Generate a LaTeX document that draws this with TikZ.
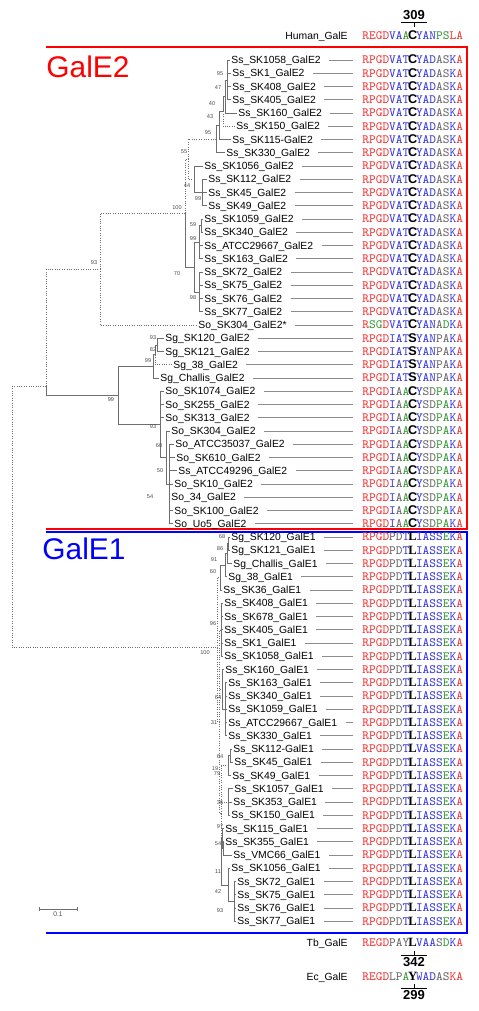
\documentclass[tikz,border=0pt]{standalone}
\usepackage{fontspec}
\usepackage{xcolor}
\newfontfamily\lsans{Liberation Sans}
\newfontfamily\lserif{Liberation Serif}
\definecolor{aared}{HTML}{EE3A3A}
\definecolor{aablue}{HTML}{3A3AE0}
\definecolor{aagreen}{HTML}{3A9A3A}
\definecolor{aagray}{HTML}{6A6A6A}
\definecolor{branch}{HTML}{6E6E6E}
\newcommand{\rd}[1]{\textcolor{aared}{#1}}
\newcommand{\bl}[1]{\textcolor{aablue}{#1}}
\newcommand{\gn}[1]{\textcolor{aagreen}{#1}}
\newcommand{\gy}[1]{\textcolor{aagray}{#1}}
\newcommand{\kc}[1]{\makebox[0.525em]{\lsans\bfseries #1}}
\newcommand{\kl}[1]{\makebox[0.525em]{\lserif\bfseries #1}}
% residue strings
\newcommand{\seqSs}{\rd{RPGD}\bl{VAT}\kc{C}\bl{YAD}\gy{AS}\bl{K}\rd{A}}
\newcommand{\seqSx}{\rd{R}\gn{SG}\rd{D}\bl{VAT}\kc{C}\bl{YAN}\gy{A}\gn{D}\bl{K}\rd{A}}
\newcommand{\seqSg}{\rd{RPGD}\bl{IAT}\kc{S}\bl{YAN}\gy{PA}\bl{K}\rd{A}}
\newcommand{\seqSo}{\rd{RPGD}\bl{I}\gy{A}\gn{A}\kc{C}\bl{Y}\gy{SD}\gn{PA}\bl{K}\rd{A}}
\newcommand{\seqEa}{\rd{RPGD}\gy{PD}\bl{T}\kl{L}\bl{IASS}\gn{E}\bl{K}\rd{A}}
\newcommand{\seqEb}{\rd{RPGD}\gy{PD}\bl{T}\kl{L}\bl{VASS}\gn{E}\bl{K}\rd{A}}
\newcommand{\seqHs}{\rd{REGD}\bl{VA}\gn{A}\kc{C}\bl{YAN}\gn{PS}\rd{LA}}
\newcommand{\seqTb}{\rd{REGD}\gy{PAY}\kl{L}\bl{VAA}\gy{S}\gn{D}\bl{K}\rd{A}}
\newcommand{\seqEc}{\rd{REGD}\gy{LP}\gn{A}\kl{Y}\bl{WAD}\gy{AS}\rd{KA}}

\begin{document}
\begin{tikzpicture}[x=0.02cm, y=-0.02cm]
  \tikzstyle{leaf}=[anchor=west, inner sep=0.6pt, font=\lsans\fontsize{5.9}{6}\selectfont, text height=4.5pt, text depth=0.3pt]
  \tikzstyle{seq}=[anchor=west, inner sep=0pt, font=\ttfamily\fontsize{7.2}{7.2}\selectfont, text height=4.6pt, text depth=0.2pt]
  \tikzstyle{br}=[draw=branch, line width=0.35pt]
  \tikzstyle{brd}=[br, densely dotted]
  \tikzstyle{guide}=[draw=black!45, line width=0.35pt, shorten <=4pt, shorten >=5pt]
  \tikzstyle{bs}=[inner sep=0pt, font=\lsans\fontsize{3.2}{3.2}\selectfont, text=black!70]
  \tikzstyle{posnum}=[inner sep=1pt, font=\lsans\bfseries\fontsize{7.4}{7.4}\selectfont]
  \tikzstyle{title}=[inner sep=0pt, font=\lsans\fontsize{17}{17}\selectfont]
  \useasboundingbox (0,0) rectangle (479,1011);

  % clade frames
  \draw[red, line width=1.1pt] (46,47) -- (467,47) -- (467,529) -- (46,529);
  \draw[blue, line width=1.1pt] (46,532) -- (467,532) -- (467,933) -- (46,933);
  \node[title, text=red] (tE2) at (88,67) {GalE2};
  \node[title, text=blue] (tE1) at (84,549) {GalE1};

  % leaves and alignment
  \foreach \tx/\nm/\sq [count=\i] in {
    230/Ss\_SK1058\_GalE2/\seqSs, 231/Ss\_SK1\_GalE2/\seqSs, 231/Ss\_SK408\_GalE2/\seqSs,
    231/Ss\_SK405\_GalE2/\seqSs, 237/Ss\_SK160\_GalE2/\seqSs, 235/Ss\_SK150\_GalE2/\seqSs,
    231/Ss\_SK115-GalE2/\seqSs, 225/Ss\_SK330\_GalE2/\seqSs, 203/Ss\_SK1056\_GalE2/\seqSs,
    207/Ss\_SK112\_GalE2/\seqSs, 207/Ss\_SK45\_GalE2/\seqSs, 207/Ss\_SK49\_GalE2/\seqSs,
    203/Ss\_SK1059\_GalE2/\seqSs, 203/Ss\_SK340\_GalE2/\seqSs, 203/Ss\_ATCC29667\_GalE2/\seqSs,
    203/Ss\_SK163\_GalE2/\seqSs, 203/Ss\_SK72\_GalE2/\seqSs, 203/Ss\_SK75\_GalE2/\seqSs,
    203/Ss\_SK76\_GalE2/\seqSs, 203/Ss\_SK77\_GalE2/\seqSs, 197/So\_SK304\_GalE2*/\seqSx,
    164/Sg\_SK120\_GalE2/\seqSg, 164/Sg\_SK121\_GalE2/\seqSg, 172/Sg\_38\_GalE2/\seqSg,
    159/Sg\_Challis\_GalE2/\seqSg, 164/So\_SK1074\_GalE2/\seqSo, 164/So\_SK255\_GalE2/\seqSo,
    164/So\_SK313\_GalE2/\seqSo, 170/So\_SK304\_GalE2/\seqSo, 174/So\_ATCC35037\_GalE2/\seqSo,
    175/So\_SK610\_GalE2/\seqSo, 177/Ss\_ATCC49296\_GalE2/\seqSo, 173/So\_SK10\_GalE2/\seqSo,
    170/So\_34\_GalE2/\seqSo, 173/So\_SK100\_GalE2/\seqSo, 173/So\_Uo5\_GalE2/\seqSo,
    230/Sg\_SK120\_GalE1/\seqEa, 230/Sg\_SK121\_GalE1/\seqEa, 232/Sg\_Challis\_GalE1/\seqEa,
    227/Sg\_38\_GalE1/\seqEa, 222/Ss\_SK36\_GalE1/\seqEa, 223/Ss\_SK408\_GalE1/\seqEa,
    223/Ss\_SK678\_GalE1/\seqEa, 223/Ss\_SK405\_GalE1/\seqEa, 223/Ss\_SK1\_GalE1/\seqEa,
    223/Ss\_SK1058\_GalE1/\seqEa, 224/Ss\_SK160\_GalE1/\seqEa, 227/Ss\_SK163\_GalE1/\seqEa,
    227/Ss\_SK340\_GalE1/\seqEa, 227/Ss\_SK1059\_GalE1/\seqEa, 227/Ss\_ATCC29667\_GalE1/\seqEa,
    227/Ss\_SK330\_GalE1/\seqEa, 232/Ss\_SK112-GalE1/\seqEb, 233/Ss\_SK45\_GalE1/\seqEa,
    231/Ss\_SK49\_GalE1/\seqEa, 233/Ss\_SK1057\_GalE1/\seqEa, 232/Ss\_SK353\_GalE1/\seqEa,
    230/Ss\_SK150\_GalE1/\seqEa, 224/Ss\_SK115\_GalE1/\seqEa, 224/Ss\_SK355\_GalE1/\seqEa,
    232/Ss\_VMC66\_GalE1/\seqEa, 230/Ss\_SK1056\_GalE1/\seqEa, 236/Ss\_SK72\_GalE1/\seqEa,
    236/Ss\_SK75\_GalE1/\seqEa, 236/Ss\_SK76\_GalE1/\seqEa, 236/Ss\_SK77\_GalE1/\seqEa}{
    \pgfmathsetmacro{\ry}{60+13.25*(\i-1)}
    \node[leaf] (l\i) at (\tx,\ry) {\nm};
    \node[seq] (s\i) at (362,\ry) {\sq};
    \draw[guide] (l\i) -- (s\i);
  }

  % GalE2 tree
  \coordinate (a1) at (227,80);
  \coordinate (a2) at (225,96.5);
  \coordinate (a3) at (223,111.4);
  \coordinate (a4) at (219,125.4);
  \coordinate (a5) at (216,139);
  \coordinate (c1) at (202,192.5);
  \coordinate (c2) at (194,179.3);
  \coordinate (b) at (188,159);
  \coordinate (f1) at (201,225.6);
  \coordinate (f) at (199,242.2);
  \coordinate (g) at (199,291.9);
  \coordinate (e) at (194,267);
  \coordinate (d) at (185,213);
  \coordinate (n93) at (100,269);
  \coordinate (sg1) at (157,344.9);
  \coordinate (sg2) at (155,354.8);
  \coordinate (sg3) at (153,366.4);
  \coordinate (so3) at (169,484);
  \coordinate (so2) at (166,457.5);
  \coordinate (so1) at (160,424.4);
  \coordinate (nA) at (118,395.4);
  \coordinate (G2) at (46,386);
  % GalE1 tree
  \coordinate (h1) at (228.5,543.6);
  \coordinate (h2) at (227,553.6);
  \coordinate (h3) at (225,565.2);
  \coordinate (h4) at (220.5,577.6);
  \coordinate (s96) at (221,629.8);
  \coordinate (s64a) at (225.5,709.3);
  \coordinate (s31) at (222.5,689.4);
  \coordinate (s64b) at (230,755.6);
  \coordinate (s19) at (228.5,765.6);
  \coordinate (s36) at (228,802);
  \coordinate (s54) at (223,848.4);
  \coordinate (s97) at (222.5,838.4);
  \coordinate (s93) at (234,901.4);
  \coordinate (s42) at (228,884.8);
  \coordinate (s11) at (221.8,861.6);
  \coordinate (s79) at (221,813.6);
  \coordinate (S) at (219.5,721.7);
  \coordinate (E1) at (217,647.5);
  \coordinate (root) at (12,386);

  \foreach \p/\c in {a1/l1, a1/l2, a1/l3, a1/l4, a2/a1, a2/l5, a3/a2, a4/a3, a4/l7, a5/a4, a5/l8,
    c1/l10, c1/l11, c1/l12, c2/l9, c2/c1, f1/l13, f1/l14, f/f1, f/l15, f/l16,
    g/l17, g/l18, g/l19, g/l20, e/f, e/g, d/e,
    sg1/l22, sg1/l23, sg2/sg1, sg3/sg2, sg3/l25,
    so3/l30, so3/l31, so3/l32, so3/l33, so3/l34, so3/l35, so3/l36, so2/l29, so2/so3,
    so1/l26, so1/l27, so1/l28, so1/so2, nA/sg3, nA/so1, G2/nA,
    h1/l37, h1/l38, h2/h1, h2/l39, h3/h2, h3/l40, h4/h3, h4/l41,
    s96/l42, s96/l43, s96/l44, s96/l45, s96/l46,
    s64a/l48, s64a/l49, s64a/l50, s64a/l51, s64a/l52, s31/l47, s31/s64a,
    s64b/l53, s64b/l54, s19/s64b, s19/l55, s36/l56, s36/l57, s36/l58,
    s54/l60, s54/l61, s97/l59, s97/s54, s93/l63, s93/l64, s93/l65, s93/l66,
    s42/l62, s42/s93, s11/s97, s11/s42}
    \draw[br] (\p) |- (\c);
  \foreach \p/\c in {a3/l6, b/a5, b/c2, d/b, n93/d, n93/l21, sg2/l24, G2/n93,
    s79/s19, s79/s36, s79/s11, S/s96, S/s31, S/s79, E1/h4, E1/S, root/G2, root/E1}
    \draw[brd] (\p) |- (\c);

  % bootstrap values
  \foreach \bx/\by/\bv [count=\k] in {220/74/95, 218/88/47, 212/104/40, 210/117/43, 208/133/95,
    184/152/55, 187/186/44, 198/199/99, 177/208/100, 193/225/59, 193/239/99, 177/274/70,
    193/298/98, 94/263/93, 153/338/93, 153/350/82, 148/361/99, 111/400/99, 153/427/93,
    159/446/60, 160/471/50, 150/497/54,
    222/537/68, 220/549/86, 214/560/91, 213/572/60, 213/624/96, 205/653/100, 218/698/64,
    214/723/31, 220/757/64, 215/769/19, 217/774/79, 220/803/36, 220/827/97, 218/844/54,
    218/872/11, 218/892/42, 220/911/93}
    \node[bs] (bs\k) at (\bx,\by) {\bv};

  % scale bar
  \coordinate (sb1) at (39,909);
  \coordinate (sb2) at (77,909);
  \draw[br] (sb1) -- (sb2);
  \draw[br] ([yshift=-1.2pt]sb1) -- ([yshift=1.2pt]sb1);
  \draw[br] ([yshift=-1.2pt]sb2) -- ([yshift=1.2pt]sb2);
  \node[bs, font=\lsans\fontsize{3.8}{3.8}\selectfont] (sbl) at (58,914) {0.1};

  % reference sequences
  \node[leaf, anchor=east] (hum) at (349,36) {Human\_GalE};
  \node[seq] (hums) at (362,36) {\seqHs};
  \node[leaf, anchor=east] (tb) at (349,943) {Tb\_GalE};
  \node[seq] (tbs) at (362,943) {\seqTb};
  \node[leaf, anchor=east] (ec) at (349,977) {Ec\_GalE};
  \node[seq] (ecs) at (362,977) {\seqEc};

  % residue positions
  \node[posnum, anchor=south] (p309) at (414,22) {309};
  \coordinate (k309) at (414,27);
  \draw[line width=0.5pt] (p309.south west) -- (p309.south east);
  \draw[line width=0.5pt] (p309.south) -- (k309);
  \node[posnum, anchor=north] (p342) at (414,955) {342};
  \coordinate (k342) at (414,951);
  \draw[line width=0.5pt] (p342.north west) -- (p342.north east);
  \draw[line width=0.5pt] (p342.north) -- (k342);
  \node[posnum, anchor=north] (p299) at (414,988) {299};
  \coordinate (k299) at (414,984);
  \draw[line width=0.5pt] (p299.north west) -- (p299.north east);
  \draw[line width=0.5pt] (p299.north) -- (k299);
\end{tikzpicture}
\end{document}
